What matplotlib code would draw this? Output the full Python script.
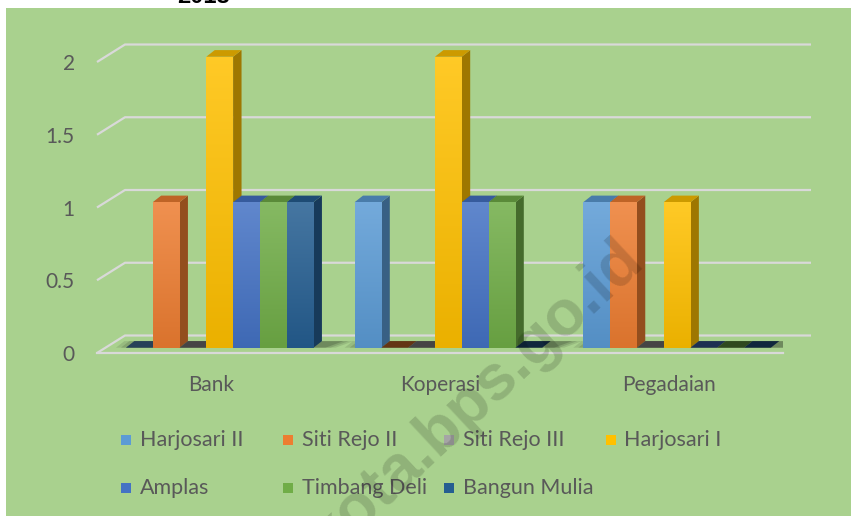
import numpy as np
import matplotlib.pyplot as plt
from matplotlib.patches import Polygon, Rectangle
from matplotlib.colors import to_rgb

# data (counts per lembaga keuangan, per kelurahan)
categories = ['Bank', 'Koperasi', 'Pegadaian']
series_names = ['Harjosari II', 'Siti Rejo II', 'Siti Rejo III', 'Harjosari I',
                'Amplas', 'Timbang Deli', 'Bangun Mulia']
harjosari_ii = [0, 1, 1]
siti_rejo_ii = [1, 0, 1]
siti_rejo_iii = [0, 0, 0]
harjosari_i = [2, 2, 1]
amplas = [1, 1, 0]
timbang_deli = [1, 1, 0]
bangun_mulia = [1, 0, 0]
yticks = [0, 0.5, 1, 1.5, 2]
ytick_labels = ['0', '0.5', '1', '1.5', '2']

all_series = [harjosari_ii, siti_rejo_ii, siti_rejo_iii, harjosari_i,
              amplas, timbang_deli, bangun_mulia]
colors = ['#5B9BD5', '#ED7D31', '#A5A5A5', '#FFC000', '#4472C4', '#70AD47', '#255E91']

W, H = 851, 516
bg = '#a9d18e'
grid_c = '#d9d9d9'
txt_c = '#595959'

fig = plt.figure(figsize=(W/100, H/100), dpi=100)
fig.patch.set_facecolor('white')
fig.patches.append(Rectangle((6/W, 0), 1, 1 - 8/H, transform=fig.transFigure,
                             facecolor=bg, edgecolor='none', zorder=-5))

# front plane of the 3d box: x -0.5..2.5 -> px 97..783, y 0 -> px 353
px_x = (783 - 97) / 3.0
px_y = 145.5
ax = fig.add_axes([97/W, 1 - 353/H, (783 - 97)/W, 2.2*px_y/H])
ax.set_xlim(-0.5, 2.5)
ax.set_ylim(0, 2.2)
ax.patch.set_visible(False)
for s in ax.spines.values():
    s.set_visible(False)

# depth vectors (data units)
fdx, fdy = 28/px_x, 17.5/px_y        # whole floor depth
ox, oy = 8.4/px_x, 5.3/px_y          # bar front face offset
bdx, bdy = 8.4/px_x, 6.6/px_y        # bar depth
bw = 26.8/px_x                       # bar width

# gridlines on back wall
for v in yticks:
    ax.plot([-0.5, -0.5 + fdx, 2.5 + fdx], [v, v + fdy, v + fdy],
            color=grid_c, lw=1.6, clip_on=False, zorder=1, solid_capstyle='butt')
ax.plot([-0.5, 2.5], [0, 0], color=grid_c, lw=1.6, clip_on=False, zorder=1)


def shade(c, f):
    r = np.array(to_rgb(c)) * f
    return tuple(np.clip(r, 0, 1))


def lighten(c, f):
    r = np.array(to_rgb(c))
    return tuple(r + (1 - r) * f)


# shadows on the floor
for i in range(len(categories)):
    x0 = i + ox - 3.5*bw
    x1 = i + ox + 3.5*bw
    for k, a in enumerate([0.10, 0.12, 0.16]):
        e = (2 - k) * 5/px_x
        ax.add_patch(Polygon([(x0 - e, oy), (x1 + 12/px_x + e, oy),
                              (x1 + 30/px_x + e, oy + bdy), (x0 + bdx - e, oy + bdy)],
                             closed=True, facecolor='black', edgecolor='none',
                             alpha=a, zorder=2))

# bars, drawn left to right
for i in range(len(categories)):
    for j, vals in enumerate(all_series):
        v = vals[i]
        c = colors[j]
        xl = i + ox + (j - 3.5)*bw
        xr = xl + bw
        y0 = oy
        yt = oy + v
        z = 3 + j*0.1 + i
        if v == 0:
            ax.add_patch(Polygon([(xl, y0), (xr, y0), (xr + bdx, y0 + bdy), (xl + bdx, y0 + bdy)],
                                 closed=True, facecolor=shade(c, 0.42), edgecolor='none', zorder=z))
            continue
        # side face
        ax.add_patch(Polygon([(xr, y0), (xr + bdx, y0 + bdy), (xr + bdx, yt + bdy), (xr, yt)],
                             closed=True, facecolor=shade(c, 0.62), edgecolor='none', zorder=z))
        # top face
        ax.add_patch(Polygon([(xl, yt), (xr, yt), (xr + bdx, yt + bdy), (xl + bdx, yt + bdy)],
                             closed=True, facecolor=shade(c, 0.8), edgecolor='none', zorder=z + 0.01))
        # front face with vertical gradient
        grad = np.linspace(0, 1, 64)[:, None, None]
        top_c = np.array(lighten(c, 0.15))
        bot_c = np.array(shade(c, 0.92))
        img = top_c*(1 - grad) + bot_c*grad
        ax.imshow(img, extent=[xl, xr, y0, yt], aspect='auto', origin='upper',
                  interpolation='bilinear', zorder=z + 0.02, clip_on=False)

ax.set_xlim(-0.5, 2.5)
ax.set_ylim(0, 2.2)

ax.set_yticks(yticks)
ax.set_yticklabels(ytick_labels)
ax.set_xticks(range(len(categories)))
ax.set_xticklabels(categories)
ax.tick_params(axis='y', length=0, pad=16, labelsize=15, labelcolor=txt_c)
ax.tick_params(axis='x', length=0, pad=16, labelsize=15, labelcolor=txt_c)
for lab in ax.get_xticklabels() + ax.get_yticklabels():
    lab.set_family('Lato')

# legend, fixed width columns
for k, name in enumerate(series_names):
    row, col = divmod(k, 4)
    lx = 121 + col*161.5
    ly = 440 + row*48
    fig.patches.append(Rectangle((lx/W, 1 - (ly + 5)/H), 10/W, 10/H, transform=fig.transFigure,
                                 facecolor=colors[k], edgecolor='none', zorder=3))
    fig.text((lx + 19)/W, 1 - ly/H, name, fontsize=15.5, color=txt_c, family='Lato',
             ha='left', va='center')

# cut off title at top
fig.text(203/W, 1 - 3/H, '2018', fontsize=17, fontweight='bold', color='black',
         ha='center', va='baseline', family='Liberation Sans')

# watermark
fig.text(645/W, 1 - 262/H, 'kota.bps.go.id', fontsize=46, fontweight='bold', color='black',
         alpha=0.15, rotation=43, rotation_mode='anchor', ha='right', va='baseline',
         family='Liberation Sans', zorder=10)

fig.savefig('out.png', dpi=100, facecolor=fig.get_facecolor())
